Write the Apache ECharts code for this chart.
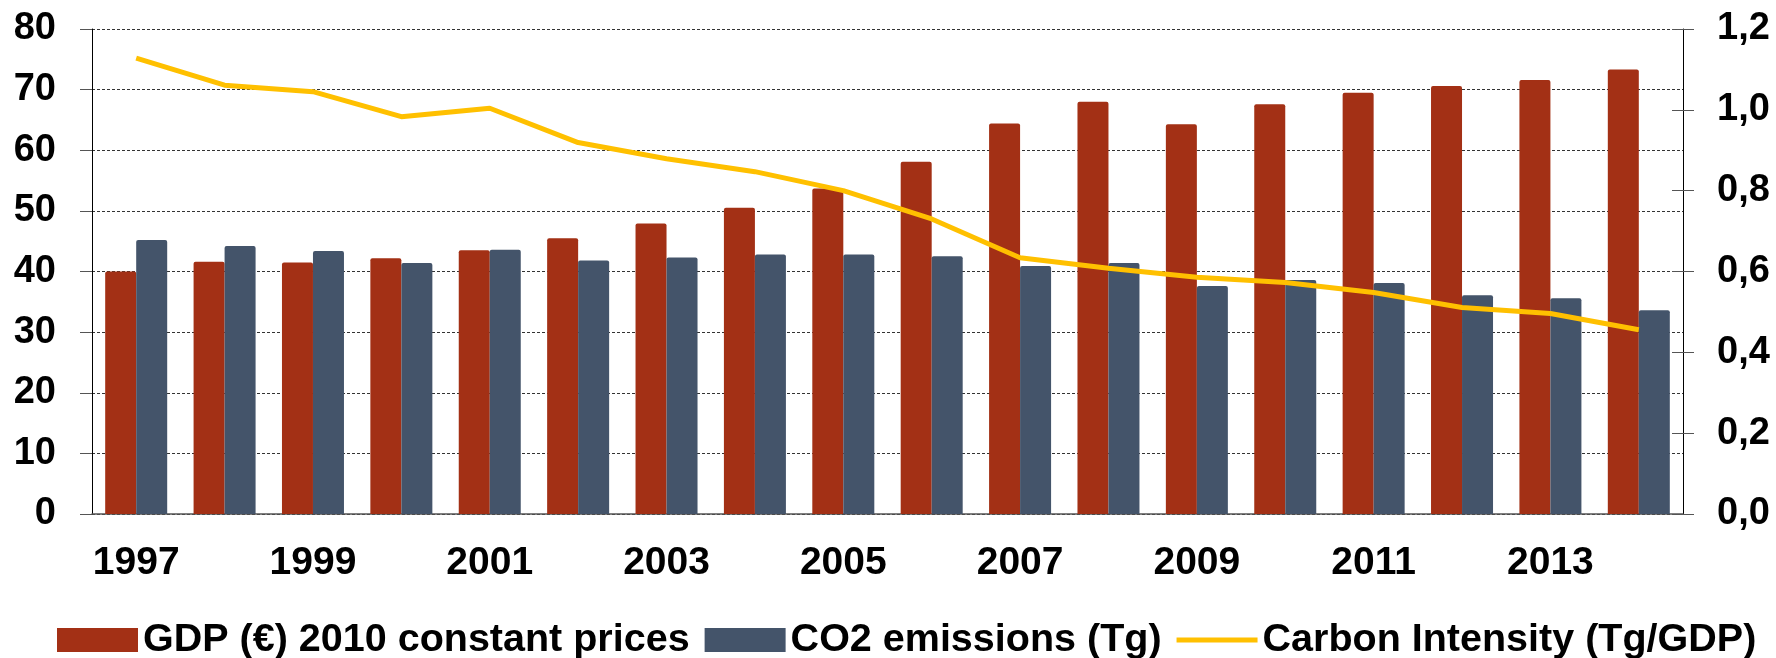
<!DOCTYPE html>
<html>
<head>
<meta charset="utf-8">
<title>GDP, CO2 emissions and carbon intensity</title>
<script src="https://cdn.jsdelivr.net/npm/echarts@6/dist/echarts.min.js"></script>
<style>
    html, body { margin: 0; padding: 0; background: #fff; }
    #main { width: 1776px; height: 658px; }
</style>
</head>
<body>
<div id="main"></div>
<script>
// data
var years = ['1997','1998','1999','2000','2001','2002','2003','2004','2005',
             '2006','2007','2008','2009','2010','2011','2012','2013','2014'];
var gdp_data = [40.0, 41.6, 41.5, 42.2, 43.5, 45.5, 47.9, 50.5, 53.7,
                58.1, 64.4, 68.0, 64.3, 67.6, 69.5, 70.6, 71.6, 73.3];
var co2_data = [45.2, 44.2, 43.4, 41.4, 43.6, 41.8, 42.3, 42.8, 42.8,
                42.5, 40.9, 41.4, 37.6, 38.6, 38.1, 36.1, 35.6, 33.6];
var intensity_data = [1.128, 1.061, 1.045, 0.983, 1.004, 0.919, 0.879, 0.847, 0.800,
                      0.730, 0.634, 0.608, 0.586, 0.573, 0.548, 0.511, 0.496, 0.456];
var left_ticks = [0, 80, 10];     // min, max, interval
var right_ticks = [0, 1.2, 0.2];

var series_names = ['GDP (€) 2010 constant prices', 'CO2 emissions (Tg)', 'Carbon Intensity (Tg/GDP)'];

var FONT = '"Liberation Sans", Arial, sans-serif';

var myChart = echarts.init(document.getElementById('main'));

function labelStyle(size) {
    return {
        fontFamily: FONT,
        fontWeight: 'bold',
        fontSize: size,
        color: '#000'
    };
}

function rightLabel(v) {
    return v.toFixed(1).replace('.', ',');
}

var xLabel = labelStyle(39);
xLabel.interval = 1;
xLabel.margin = 30;

var leftLabel = labelStyle(38);
leftLabel.margin = 36;

var rLabel = labelStyle(38);
rLabel.margin = 34;
rLabel.formatter = rightLabel;

option = {
    animation: false,
    textStyle: { fontFamily: FONT },
    grid: {
        left: 92,
        right: 93,
        top: 29,
        bottom: 144
    },
    legend: {
        left: 57,
        top: 620,
        width: 1719,
        padding: 0,
        itemWidth: 81,
        itemHeight: 24,
        itemGap: 15,
        textStyle: {
            fontFamily: FONT,
            fontWeight: 'bold',
            fontSize: 39.5,
            color: '#000'
        },
        data: [
            { name: series_names[0], icon: 'rect' },
            { name: series_names[1], icon: 'rect' },
            // thin bar so the line key stays a line (aspect kept)
            { name: series_names[2], icon: 'path://M0,0 L80,0 L80,5 L0,5 Z' }
        ]
    },
    xAxis: [
        {
            type: 'category',
            data: years,
            axisLine: { lineStyle: { color: '#555', width: 1.5 } },
            axisTick: {
                interval: 1,
                length: 12,
                lineStyle: { color: '#555' }
            },
            axisLabel: xLabel
        }
    ],
    yAxis: [
        {
            type: 'value',
            min: left_ticks[0],
            max: left_ticks[1],
            interval: left_ticks[2],
            axisLine: { show: true, lineStyle: { color: '#000', width: 1 } },
            axisTick: { show: true, length: 12, lineStyle: { color: '#555' } },
            axisLabel: leftLabel,
            splitLine: {
                show: true,
                lineStyle: { color: '#333', width: 1, type: [3, 2] }
            }
        },
        {
            type: 'value',
            position: 'right',
            min: right_ticks[0],
            max: right_ticks[1],
            interval: right_ticks[2],
            axisLine: { show: true, lineStyle: { color: '#000', width: 1 } },
            axisTick: { show: true, length: 11, lineStyle: { color: '#555' } },
            axisLabel: rLabel,
            splitLine: { show: false }
        },
        {
            // inner half of the crossing ticks on the right axis
            type: 'value',
            position: 'right',
            min: right_ticks[0],
            max: right_ticks[1],
            interval: right_ticks[2],
            axisLine: { show: false },
            axisTick: { show: true, inside: true, length: 11, lineStyle: { color: '#555' } },
            axisLabel: { show: false },
            splitLine: { show: false }
        }
    ],
    series: [
        {
            name: series_names[0],
            type: 'bar',
            yAxisIndex: 0,
            barWidth: 31,
            barGap: '0%',
            itemStyle: { color: '#A33015', borderRadius: [2, 2, 0, 0] },
            data: gdp_data
        },
        {
            name: series_names[1],
            type: 'bar',
            yAxisIndex: 0,
            barWidth: 31,
            barGap: '0%',
            itemStyle: { color: '#44546A', borderRadius: [2, 2, 0, 0] },
            data: co2_data
        },
        {
            name: series_names[2],
            type: 'line',
            yAxisIndex: 1,
            symbol: 'none',
            z: 5,
            lineStyle: { color: '#FFC000', width: 5 },
            itemStyle: { color: '#FFC000' },
            data: intensity_data
        }
    ]
};

myChart.setOption(option);
</script>
</body>
</html>
